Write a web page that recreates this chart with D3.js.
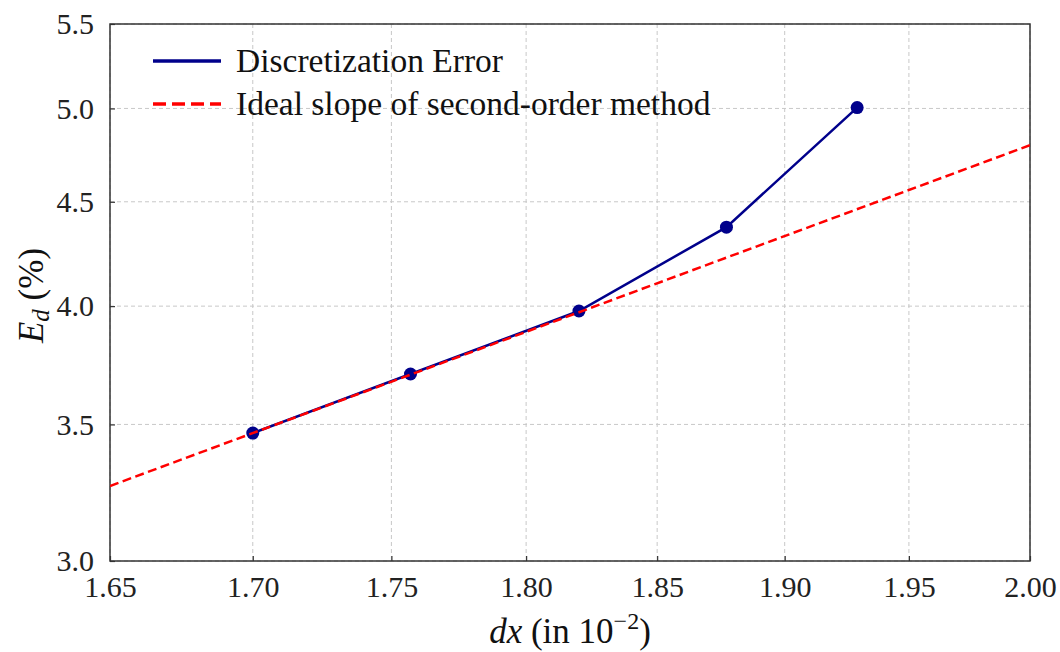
<!DOCTYPE html>
<html><head><meta charset="utf-8">
<script src="https://cdn.jsdelivr.net/npm/d3@7"></script>
<style>body{margin:0;background:#fff}svg{display:block}</style>
</head><body>
<svg id="c" width="1060" height="652"></svg>
<script>
// Data
const dxValues = [1.700, 1.757, 1.820, 1.877, 1.929];
const errValues = [3.466, 3.705, 3.978, 4.373, 5.005];
const idealX = [1.65, 2.00];
const idealY = [3.265, 4.797];
const xTicks = [1.65, 1.70, 1.75, 1.80, 1.85, 1.90, 1.95, 2.00];
const yTicks = [3.0, 3.5, 4.0, 4.5, 5.0, 5.5];
const seriesNames = ["Discretization Error", "Ideal slope of second-order method"];

const svg = d3.select("#c");
const m = {l:110, r:1030, t:24, b:561};
const serif = "'Liberation Serif','DejaVu Serif',serif";

const x = d3.scaleLog().domain([1.65, 2.00]).range([m.l, m.r]);
const y = d3.scaleLog().domain([3.0, 5.5]).range([m.b, m.t]);

// grid
const grid = svg.append("g");
grid.selectAll("line.gx").data(xTicks).join("line")
  .attr("x1", d=>x(d)).attr("x2", d=>x(d)).attr("y1", m.t).attr("y2", m.b)
  .attr("stroke", "#c8c8c8").attr("stroke-width", 1).attr("stroke-dasharray", "4,3");
grid.selectAll("line.gy").data(yTicks).join("line")
  .attr("y1", d=>y(d)).attr("y2", d=>y(d)).attr("x1", m.l).attr("x2", m.r)
  .attr("stroke", "#c8c8c8").attr("stroke-width", 1).attr("stroke-dasharray", "4,3");

// axes
const xAxis = d3.axisBottom(x).tickValues(xTicks).tickFormat(d3.format(".2f")).tickSizeInner(-5).tickSizeOuter(0).tickPadding(15);
const yAxis = d3.axisLeft(y).tickValues(yTicks).tickFormat(d3.format(".1f")).tickSizeInner(-5).tickSizeOuter(0).tickPadding(16);
const gx = svg.append("g").attr("transform", `translate(0,${m.b})`).call(xAxis);
const gy = svg.append("g").attr("transform", `translate(${m.l},0)`).call(yAxis);
[gx, gy].forEach(g => {
  g.select(".domain").remove();
  g.selectAll(".tick line").attr("stroke", "#333").attr("stroke-width", 1.2);
  g.selectAll("text").attr("font-family", serif).attr("font-size", 30).attr("fill", "#222");
});

// frame
svg.append("rect").attr("x", m.l).attr("y", m.t).attr("width", m.r-m.l).attr("height", m.b-m.t)
  .attr("fill", "none").attr("stroke", "#333").attr("stroke-width", 1.5);

// plot
const line = d3.line().x(d=>x(d[0])).y(d=>y(d[1]));
svg.append("clipPath").attr("id","clip").append("rect").attr("x", m.l).attr("y", m.t).attr("width", m.r-m.l).attr("height", m.b-m.t);
const plot = svg.append("g").attr("clip-path", "url(#clip)");

const errPts = dxValues.map((d,i)=>[d, errValues[i]]);
const idealPts = idealX.map((d,i)=>[d, idealY[i]]);
plot.append("path").datum(errPts).attr("d", line).attr("fill","none")
  .attr("stroke", "#00008b").attr("stroke-width", 2.5);
plot.selectAll("circle").data(errPts).join("circle")
  .attr("cx", d=>x(d[0])).attr("cy", d=>y(d[1])).attr("r", 6.5).attr("fill", "#00008b");
plot.append("path").datum(idealPts).attr("d", line).attr("fill","none")
  .attr("stroke", "#ff0000").attr("stroke-width", 2.5).attr("stroke-dasharray", "9,4.5");

// legend
const leg = svg.append("g");
const legY = [61, 104];
leg.append("line").attr("x1",153).attr("x2",221).attr("y1",legY[0]).attr("y2",legY[0])
  .attr("stroke","#00008b").attr("stroke-width",3.5);
leg.append("line").attr("x1",153).attr("x2",221).attr("y1",legY[1]).attr("y2",legY[1])
  .attr("stroke","#ff0000").attr("stroke-width",3.5).attr("stroke-dasharray","13,6");
seriesNames.forEach((s,i)=>{
  leg.append("text").attr("x",236).attr("y",legY[i]+11).text(s)
    .attr("font-family", serif).attr("font-size", 33.5).attr("fill","#111");
});

// axis labels
const xl = svg.append("text").attr("x", (m.l+m.r)/2).attr("y", 643).attr("text-anchor","middle")
  .attr("font-family", serif).attr("font-size", 35).attr("fill","#111");
xl.append("tspan").attr("font-style","italic").text("dx");
xl.append("tspan").text(" (in 10");
xl.append("tspan").attr("font-size", 24).attr("dy", -14).text("\u22122");
xl.append("tspan").attr("dy", 14).text(")");

const yl = svg.append("text").attr("transform", `translate(43,${(m.t+m.b)/2 + 3}) rotate(-90)`).attr("text-anchor","middle")
  .attr("font-family", serif).attr("font-size", 35).attr("fill","#111");
yl.append("tspan").attr("font-style","italic").text("E");
yl.append("tspan").attr("font-style","italic").attr("font-size", 25).attr("dy", 6).text("d");
yl.append("tspan").attr("dy", -6).text(" (%)");
</script>
</body></html>
